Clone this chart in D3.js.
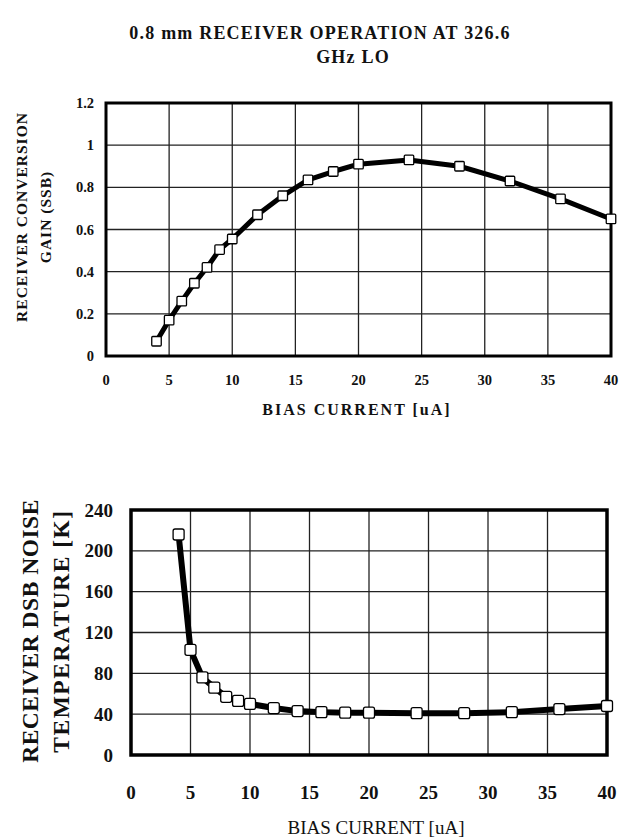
<!DOCTYPE html>
<html>
<head>
<meta charset="utf-8">
<script src="https://cdn.jsdelivr.net/npm/d3@7"></script>
<style>
  body { margin: 0; background: #fff; }
  text { font-family: "Liberation Serif", "DejaVu Serif", serif; fill: #111; }
</style>
</head>
<body>
<div id="chart"></div>
<script>
// bias current values for both plots [uA]
var biasCurrent = [4, 5, 6, 7, 8, 9, 10, 12, 14, 16, 18, 20, 24, 28, 32, 36, 40];
// conversion gain (SSB)
var gainSSB = [0.07, 0.17, 0.26, 0.345, 0.42, 0.505, 0.555, 0.67, 0.76, 0.835, 0.875, 0.91, 0.93, 0.90, 0.83, 0.745, 0.65];
// DSB noise temperature [K]
var noiseTemp = [216, 103, 76, 66, 57, 53, 50, 46, 43, 42, 41.5, 41.5, 41, 41, 42, 45, 48];

var xTicks = [0, 5, 10, 15, 20, 25, 30, 35, 40];
var gainTicks = [0, 0.2, 0.4, 0.6, 0.8, 1, 1.2];
var noiseTicks = [0, 40, 80, 120, 160, 200, 240];
var titleLines = ["0.8 mm RECEIVER OPERATION AT 326.6", "GHz LO"];

const W = 621, H = 838;

const svg = d3.select('#chart')
    .append('svg')
    .attr('width', W)
    .attr('height', H);

// Title
svg.append('text')
    .attr('x', 320).attr('y', 39)
    .attr('text-anchor', 'middle')
    .style('font-size', '18px').style('font-weight', 'bold')
    .style('letter-spacing', '1.2px')
    .text(titleLines[0]);
svg.append('text')
    .attr('x', 353).attr('y', 63)
    .attr('text-anchor', 'middle')
    .style('font-size', '18px').style('font-weight', 'bold')
    .style('letter-spacing', '1.2px')
    .text(titleLines[1]);

function drawPanel(cfg) {
    const x = d3.scaleLinear().domain([0, 40]).range([cfg.left, cfg.right]);
    const y = d3.scaleLinear().domain(cfg.yDomain).range([cfg.bottom, cfg.top]);
    const g = svg.append('g');

    // grid
    g.append('g').selectAll('line.v')
        .data(xTicks.slice(1, -1))
        .enter().append('line')
        .attr('x1', d => x(d)).attr('x2', d => x(d))
        .attr('y1', cfg.top).attr('y2', cfg.bottom)
        .attr('stroke', '#222').attr('stroke-width', cfg.gridW);
    g.append('g').selectAll('line.h')
        .data(cfg.yTicks.slice(1, -1))
        .enter().append('line')
        .attr('x1', cfg.left).attr('x2', cfg.right)
        .attr('y1', d => y(d)).attr('y2', d => y(d))
        .attr('stroke', '#222').attr('stroke-width', cfg.gridW);

    // frame
    g.append('rect')
        .attr('x', cfg.left).attr('y', cfg.top)
        .attr('width', cfg.right - cfg.left)
        .attr('height', cfg.bottom - cfg.top)
        .attr('fill', 'none')
        .attr('stroke', '#000')
        .attr('stroke-width', cfg.frameW);

    // y tick labels
    g.append('g').selectAll('text')
        .data(cfg.yTicks)
        .enter().append('text')
        .attr('x', cfg.yLabelX)
        .attr('y', d => y(d))
        .attr('dy', '0.35em')
        .attr('text-anchor', 'end')
        .style('font-size', cfg.tickFont + 'px')
        .style('font-weight', 'bold')
        .text(d => d);

    // x tick labels
    g.append('g').selectAll('text')
        .data(xTicks)
        .enter().append('text')
        .attr('x', d => x(d))
        .attr('y', cfg.xLabelY)
        .attr('text-anchor', 'middle')
        .style('font-size', cfg.tickFont + 'px')
        .style('font-weight', 'bold')
        .text(d => d);

    // x axis title
    g.append('text')
        .attr('x', cfg.xTitleX).attr('y', cfg.xTitleY)
        .attr('text-anchor', 'middle')
        .style('font-size', cfg.xTitleFont + 'px')
        .style('font-weight', cfg.xTitleWeight)
        .style('letter-spacing', cfg.xTitleSpacing)
        .text('BIAS CURRENT [uA]');

    // y axis title, two lines
    cfg.yTitle.forEach((t, i) => {
        g.append('text')
            .attr('transform', `translate(${cfg.yTitleX[i]}, ${cfg.yTitleY}) rotate(-90)`)
            .attr('text-anchor', 'middle')
            .attr('dy', '0.35em')
            .style('font-size', cfg.yTitleFont + 'px')
            .style('font-weight', 'bold')
            .style('letter-spacing', cfg.yTitleSpacing[i])
            .text(t);
    });

    const pts = biasCurrent.map((b, i) => [b, cfg.values[i]]);
    const line = d3.line().x(d => x(d[0])).y(d => y(d[1]));

    g.append('path')
        .datum(pts)
        .attr('d', line)
        .attr('fill', 'none')
        .attr('stroke', '#000')
        .attr('stroke-width', cfg.lineW)
        .attr('stroke-linejoin', 'round');

    g.append('g').selectAll('rect')
        .data(pts)
        .enter().append('rect')
        .attr('x', d => x(d[0]) - cfg.mk / 2)
        .attr('y', d => y(d[1]) - cfg.mk / 2)
        .attr('width', cfg.mk).attr('height', cfg.mk)
        .attr('rx', cfg.mkR)
        .attr('fill', '#fff')
        .attr('stroke', '#000')
        .attr('stroke-width', 1.3);
}

drawPanel({
    left: 106, right: 611, top: 103, bottom: 356,
    yDomain: [0, 1.2], yTicks: gainTicks, values: gainSSB,
    gridW: 1.3, frameW: 3, lineW: 5, mk: 9.5, mkR: 1,
    tickFont: 14.5, yLabelX: 94, xLabelY: 385,
    xTitleX: 357, xTitleY: 415, xTitleFont: 16, xTitleWeight: 'bold', xTitleSpacing: '2px',
    yTitle: ['RECEIVER CONVERSION', 'GAIN (SSB)'], yTitleX: [22, 46], yTitleY: 217, yTitleFont: 15.5,
    yTitleSpacing: ['1px', '1px']
});

drawPanel({
    left: 131, right: 607, top: 510, bottom: 755,
    yDomain: [0, 240], yTicks: noiseTicks, values: noiseTemp,
    gridW: 1.3, frameW: 3.5, lineW: 6, mk: 11, mkR: 2,
    tickFont: 19, yLabelX: 113, xLabelY: 799,
    xTitleX: 376, xTitleY: 834, xTitleFont: 19, xTitleWeight: 'normal', xTitleSpacing: '0px',
    yTitle: ['RECEIVER DSB NOISE', 'TEMPERATURE [K]'], yTitleX: [30, 61], yTitleY: 631, yTitleFont: 23.5,
    yTitleSpacing: ['0.5px', '1.5px']
});
</script>
</body>
</html>
